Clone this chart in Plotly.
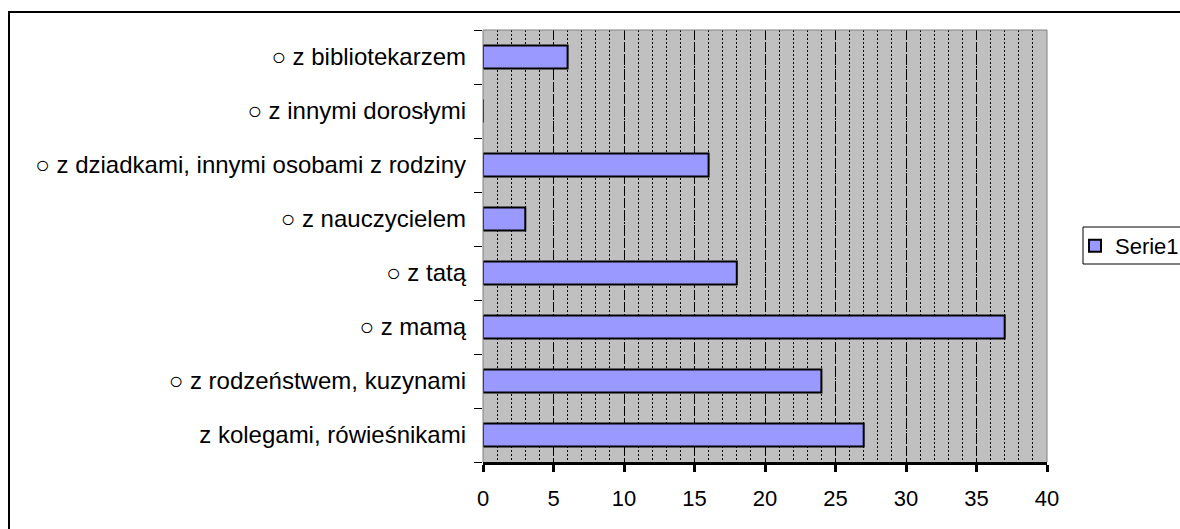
import plotly.graph_objects as go

# Categories listed bottom to top, with their counts
categories = [
    "z kolegami, rówieśnikami",
    "○ z rodzeństwem, kuzynami",
    "○ z mamą",
    "○ z tatą",
    "○ z nauczycielem",
    "○ z dziadkami, innymi osobami z rodziny",
    "○ z innymi dorosłymi",
    "○ z bibliotekarzem",
]
values = [27, 24, 37, 18, 3, 16, 0, 6]
series_name = "Serie1"
x_ticks = [0, 5, 10, 15, 20, 25, 30, 35, 40]

W, H = 1180, 529
L, R, T, B = 483, 1047, 30, 462  # plot area edges in pixels


def px(x):
    return (x - L) / (R - L)


def py(y):
    return (B - y) / (B - T)


FONT = "Liberation Sans, Arial, sans-serif"

fig = go.Figure(
    go.Bar(
        x=values,
        y=categories,
        orientation="h",
        name=series_name,
        width=0.43,
        marker=dict(color="#9999ff", line=dict(color="black", width=2)),
        showlegend=True,
    )
)

fig.update_layout(
    width=W,
    height=H,
    margin=dict(l=L, r=W - R, t=T, b=H - B, autoexpand=False),
    paper_bgcolor="white",
    plot_bgcolor="#c0c0c0",
    font=dict(family=FONT, size=22, color="black"),
    showlegend=True,
    legend=dict(
        x=1075 / W,
        y=1 - 246 / H,
        xref="container",
        yref="container",
        xanchor="left",
        yanchor="middle",
        bgcolor="rgba(0,0,0,0)",
        borderwidth=0,
        font=dict(size=22),
        itemwidth=30,
    ),
    bargap=0.57,
)

fig.update_xaxes(
    range=[0, 40],
    tickvals=x_ticks,
    ticktext=[str(v) for v in x_ticks],
    showgrid=True,
    gridcolor="black",
    gridwidth=1,
    griddash="9px,4px",
    minor=dict(
        dtick=1,
        tick0=0,
        showgrid=True,
        gridcolor="black",
        gridwidth=1,
        griddash="2px,2px",
        ticks="",
    ),
    zeroline=False,
    showline=True,
    linecolor="black",
    linewidth=3,
    ticks="outside",
    ticklen=7,
    tickwidth=3,
    tickcolor="black",
    ticklabelstandoff=8,
    tickfont=dict(size=22),
    fixedrange=True,
)

fig.update_yaxes(
    categoryorder="array",
    categoryarray=categories,
    showgrid=False,
    zeroline=False,
    showline=False,
    ticks="outside",
    tickson="boundaries",
    ticklen=8,
    tickwidth=1,
    tickcolor="black",
    ticklabelstandoff=16,
    tickfont=dict(size=24),
    fixedrange=True,
)

# Plot-area border (left, top, right)
fig.add_shape(
    type="path",
    xref="paper",
    yref="paper",
    path="M 0,0 L 0,1 L 1,1 L 1,0",
    line=dict(color="#808080", width=1),
    layer="above",
)
# Legend frame
fig.add_shape(
    type="rect",
    xref="paper",
    yref="paper",
    x0=px(1083),
    x1=px(1200),
    y0=py(264),
    y1=py(227),
    line=dict(color="black", width=1),
    fillcolor="white",
    layer="below",
)
# Outer chart frame
fig.add_shape(
    type="rect",
    xref="paper",
    yref="paper",
    x0=px(9),
    x1=px(1195),
    y0=py(545),
    y1=py(12),
    line=dict(color="black", width=2),
    fillcolor="rgba(0,0,0,0)",
    layer="above",
)

fig.write_html("out.html")
